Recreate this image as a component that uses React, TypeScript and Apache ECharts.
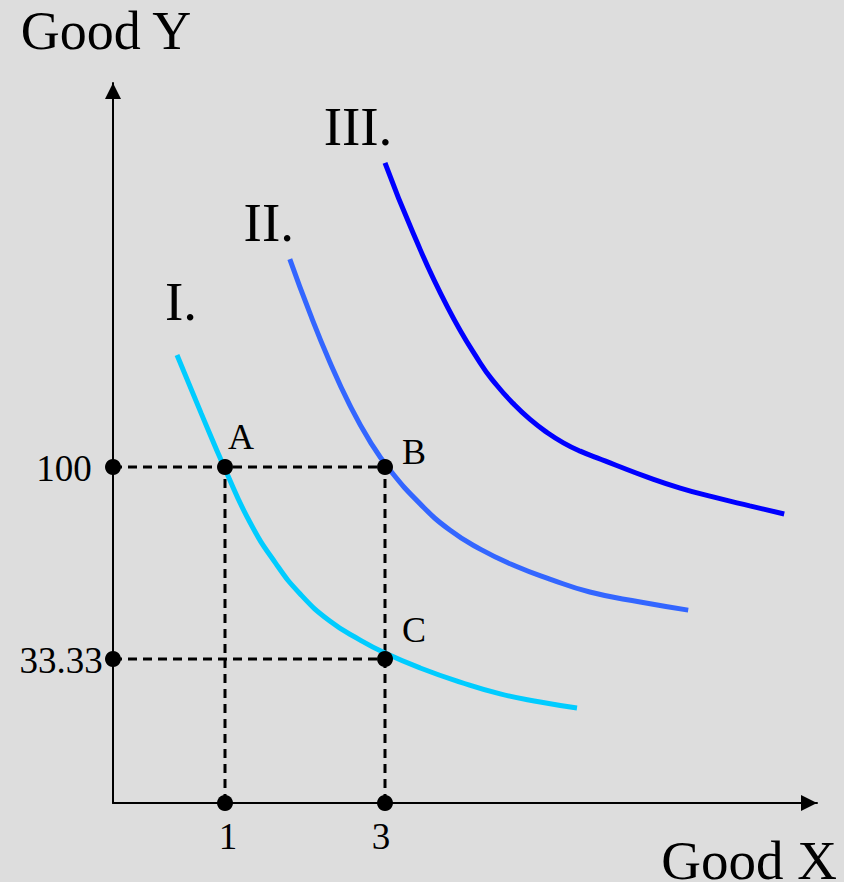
import React, { useEffect, useRef } from "react";
import * as echarts from "echarts";

// ---- data ----
const X_MIN = -0.4;
const X_MAX = 8.4;
const Y_MIN = -50 / 3;
const Y_MAX = 700 / 3;

const curveNames = ["I.", "II.", "III."];

const curveIX = [0.4, 0.7, 1.0, 1.31, 1.63, 1.94, 2.31, 2.69, 3.0, 3.44, 3.94, 4.44, 4.94, 5.4];
const curveIY = [138.9, 118.8, 99.3, 80.9, 66.7, 55.9, 46.5, 39.9, 35.4, 30.2, 25.3, 21.2, 18.4, 16.3];

const curveIIX = [1.81, 2.06, 2.31, 2.56, 2.81, 3.06, 3.44, 3.81, 4.19, 4.63, 5.06, 5.56, 6.19, 6.79];
const curveIIY = [172.2, 153.5, 136.5, 121.5, 109.0, 99.0, 87.2, 78.1, 71.5, 65.6, 61.1, 56.6, 53.1, 50.3];

const curveIIIX = [3.0, 3.35, 3.78, 4.19, 4.4, 4.6, 4.81, 5.03, 5.23, 5.44, 5.66, 5.88, 6.28, 6.69, 7.1, 7.56, 7.99];
const curveIIIY = [205.6, 181.3, 155.6, 136.1, 128.3, 122.1, 116.6, 111.9, 108.4, 105.5, 103.1, 100.7, 96.5, 92.7, 89.6, 86.5, 83.7];

const pointNames = ["A", "B", "C"];
const pointX = [1, 3, 3];
const pointY = [100, 100, 33.33];

const xTickValues = [1, 3];
const xTickLabels = ["1", "3"];
const yTickValues = [100, 33.33];
const yTickLabels = ["100", "33.33"];

// ---- styles ----
const FONT = "'Liberation Serif', 'Times New Roman', serif";
const curveColors = ["#00ccff", "#3366ff", "#0000ff"];
const curveLabelOffsets = [[4, -53], [-21, -37], [-27, -36]];
const pointLabelOffsets = [[16, -30], [29, -15], [29, -29]];
const xTickLabelOffsets = [[3, 33], [-4, 33]];
const yTickLabelOffsets = [[-49, 1], [-52, 1]];

export default function App() {
  const ref = useRef<HTMLDivElement>(null);

  useEffect(() => {
    if (!ref.current) return;
    const chart = echarts.init(ref.current, null, { renderer: "svg" });

    const curveSets = [
      [curveIX, curveIY],
      [curveIIX, curveIIY],
      [curveIIIX, curveIIIY],
    ];

    const curveSeries = curveSets.map(([xs, ys], ci) => ({
      type: "line",
      name: curveNames[ci],
      smooth: 0.5,
      clip: false,
      showSymbol: true,
      symbol: "circle",
      symbolSize: 0,
      z: 3,
      lineStyle: { color: curveColors[ci], width: 5, cap: "butt" },
      itemStyle: { color: curveColors[ci], opacity: 1 },
      emphasis: { disabled: true },
      data: xs.map((x, i) =>
        i === 0
          ? {
              value: [x, ys[i]],
              label: {
                show: true,
                formatter: curveNames[ci],
                position: "inside",
                offset: curveLabelOffsets[ci],
                color: "#000",
                fontFamily: FONT,
                fontSize: 55,
              },
            }
          : { value: [x, ys[i]] }
      ),
    }));

    const dashStyle = { color: "#000", width: 3, type: [9, 6] };
    const dashSeries: any[] = [];
    yTickValues.forEach((yv) => {
      const maxX = Math.max(...pointX.filter((_, k) => pointY[k] === yv));
      dashSeries.push({
        type: "line",
        clip: false,
        symbol: "none",
        z: 2,
        emphasis: { disabled: true },
        lineStyle: dashStyle,
        data: [[X_MIN, yv], [maxX, yv]],
      });
    });
    xTickValues.forEach((xv) => {
      const maxY = Math.max(...pointY.filter((_, k) => pointX[k] === xv));
      dashSeries.push({
        type: "line",
        clip: false,
        symbol: "none",
        z: 2,
        emphasis: { disabled: true },
        lineStyle: dashStyle,
        data: [[xv, Y_MIN], [xv, maxY]],
      });
    });

    const labelBase = {
      show: true,
      position: "inside",
      color: "#000",
      fontFamily: FONT,
    };

    const dotData: any[] = [];
    pointNames.forEach((n, i) => {
      dotData.push({
        value: [pointX[i], pointY[i]],
        label: { ...labelBase, formatter: n, offset: pointLabelOffsets[i], fontSize: 36 },
      });
    });
    xTickValues.forEach((xv, i) => {
      dotData.push({
        value: [xv, Y_MIN],
        label: { ...labelBase, formatter: xTickLabels[i], offset: xTickLabelOffsets[i], fontSize: 37 },
      });
    });
    yTickValues.forEach((yv, i) => {
      dotData.push({
        value: [X_MIN, yv],
        label: { ...labelBase, formatter: yTickLabels[i], offset: yTickLabelOffsets[i], fontSize: 37 },
      });
    });

    const axisLine = {
      show: true,
      onZero: false,
      symbol: ["none", "triangle"],
      symbolSize: [16, 16],
      symbolOffset: [0, -8],
      lineStyle: { color: "#000", width: 2 },
    };

    chart.setOption({
      animation: false,
      backgroundColor: "#dddddd",
      grid: { left: 113, top: 83, right: 27, bottom: 79, containLabel: false },
      xAxis: {
        type: "value",
        min: X_MIN,
        max: X_MAX,
        axisLine,
        axisTick: { show: false },
        axisLabel: { show: false },
        splitLine: { show: false },
      },
      yAxis: {
        type: "value",
        min: Y_MIN,
        max: Y_MAX,
        axisLine,
        axisTick: { show: false },
        axisLabel: { show: false },
        splitLine: { show: false },
      },
      graphic: [
        {
          type: "text",
          x: 106,
          y: 31,
          style: {
            text: "Good Y",
            fill: "#000",
            font: `54px ${FONT}`,
            textAlign: "center",
            textVerticalAlign: "middle",
          },
        },
        {
          type: "text",
          x: 749,
          y: 860,
          style: {
            text: "Good X",
            fill: "#000",
            font: `55px ${FONT}`,
            textAlign: "center",
            textVerticalAlign: "middle",
          },
        },
      ],
      series: [
        ...dashSeries,
        ...curveSeries,
        {
          type: "scatter",
          clip: false,
          symbol: "circle",
          symbolSize: 16,
          z: 5,
          itemStyle: { color: "#000", opacity: 1 },
          emphasis: { disabled: true },
          data: dotData,
        },
      ],
    });

    return () => chart.dispose();
  }, []);

  return (
    <div
      ref={ref}
      style={{ position: "fixed", left: 0, top: 0, width: 844, height: 882 }}
    />
  );
}
